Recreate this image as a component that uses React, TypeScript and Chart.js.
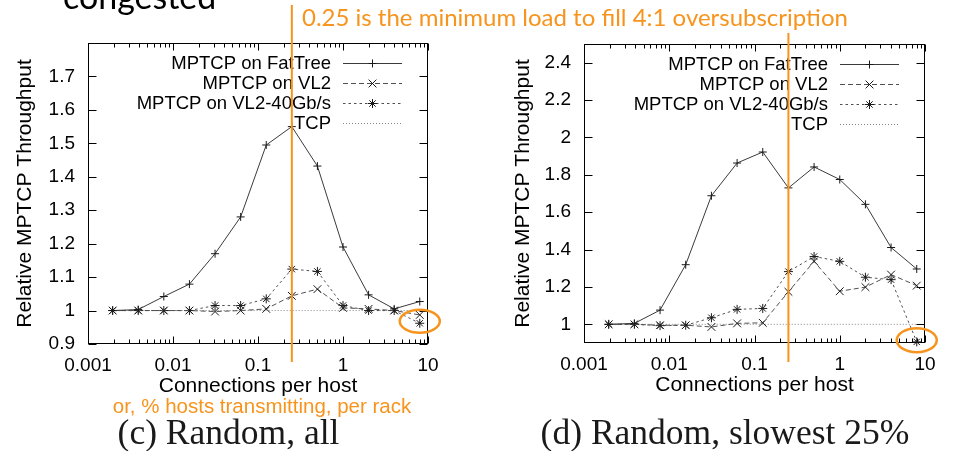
import React, { useEffect, useRef } from 'react';
import { Chart, registerables } from 'chart.js';

Chart.register(...registerables);

// ---------------- data ----------------
const CONNECTIONS = [0.00195, 0.0039, 0.0078, 0.0156, 0.03125, 0.0625, 0.125, 0.25, 0.5, 1, 2, 4, 8];

const ALL_FATTREE = [1.0, 1.003, 1.042, 1.079, 1.17, 1.28, 1.495, 1.55, 1.432, 1.19, 1.047, 1.005, 1.027];
const ALL_VL2 = [1.0, 1.0, 1.0, 1.0, 0.997, 1.0, 1.005, 1.044, 1.064, 1.008, 1.005, 1.0, 0.987];
const ALL_VL2_40 = [1.0, 1.0, 1.0, 1.0, 1.015, 1.015, 1.035, 1.124, 1.117, 1.015, 1.0, 1.0, 0.962];
const ALL_TCP = [1, 1, 1, 1, 1, 1, 1, 1, 1, 1, 1, 1, 1];

const SLOW_FATTREE = [1.0, 1.005, 1.076, 1.319, 1.688, 1.863, 1.922, 1.73, 1.842, 1.775, 1.642, 1.411, 1.296];
const SLOW_VL2 = [1.0, 1.0, 0.995, 0.995, 0.986, 1.005, 1.008, 1.174, 1.337, 1.177, 1.199, 1.266, 1.207];
const SLOW_VL2_40 = [1.0, 1.0, 0.993, 0.995, 1.035, 1.08, 1.085, 1.282, 1.363, 1.337, 1.252, 1.239, 0.906];
const SLOW_TCP = [1, 1, 1, 1, 1, 1, 1, 1, 1, 1, 1, 1, 1];

const SERIES_LABELS = ['MPTCP on FatTree', 'MPTCP on VL2', 'MPTCP on VL2-40Gb/s', 'TCP'];

const X_RANGE = [0.001, 10];
const X_TICKS = [0.001, 0.01, 0.1, 1, 10];
const ALL_Y_RANGE = [0.9, 1.8];
const ALL_Y_TICKS = [0.9, 1, 1.1, 1.2, 1.3, 1.4, 1.5, 1.6, 1.7];
const SLOW_Y_RANGE = [0.9, 2.5];
const SLOW_Y_TICKS = [1, 1.2, 1.4, 1.6, 1.8, 2, 2.2, 2.4];

const THRESHOLD_LOAD = 0.25;
const ALL_HIGHLIGHT = [8, 0.968];
const SLOW_HIGHLIGHT = [8, 0.915];

const X_TITLE = 'Connections per host';
const Y_TITLE = 'Relative MPTCP Throughput';
const HEADLINE = '0.25 is the minimum load to fill 4:1 oversubscription';
const X_NOTE = 'or, % hosts transmitting, per rack';
const CAPTION_ALL = '(c) Random, all';
const CAPTION_SLOW = '(d) Random, slowest 25%';
const TOP_WORD = 'congested';

// ---------------- styles ----------------
const ORANGE = '#F7941D';
const SANS = '"Liberation Sans", Arial, Helvetica, sans-serif';
const SERIF = '"Liberation Serif", "Times New Roman", Times, serif';
const HUMANIST = 'Lato, "Open Sans", sans-serif';

const STYLES = [
  { color: '#3a3a3a', dash: [] as number[], point: 'cross', radius: 4 },
  { color: '#505050', dash: [5, 3], point: 'crossRot', radius: 5.5 },
  { color: '#505050', dash: [2.5, 3], point: 'star', radius: 4.5 },
  { color: '#858585', dash: [1, 2], point: '', radius: 0 },
];

function drawMarker(ctx: CanvasRenderingContext2D, style: string, x: number, y: number, r: number) {
  if (!style) return;
  ctx.beginPath();
  if (style === 'cross' || style === 'star') {
    ctx.moveTo(x - r, y); ctx.lineTo(x + r, y);
    ctx.moveTo(x, y - r); ctx.lineTo(x, y + r);
  }
  if (style === 'crossRot' || style === 'star') {
    const d = r * Math.SQRT1_2;
    ctx.moveTo(x - d, y - d); ctx.lineTo(x + d, y + d);
    ctx.moveTo(x - d, y + d); ctx.lineTo(x + d, y - d);
  }
  ctx.stroke();
}

const framePlugin = {
  id: 'gnuFrame',
  beforeDatasetsDraw(chart: any) {
    const { ctx, chartArea: a, scales } = chart;
    const xs = scales.x, ys = scales.y;
    const L = Math.round(a.left) + 0.5, R = Math.round(a.right) - 0.5;
    const T = Math.round(a.top) + 0.5, B = Math.round(a.bottom) - 0.5;
    ctx.save();
    ctx.strokeStyle = '#000';
    ctx.lineWidth = 1;
    ctx.setLineDash([]);
    ctx.strokeRect(L, T, R - L, B - T);
    ctx.beginPath();
    ys.ticks.forEach((t: any) => {
      const py = Math.round(ys.getPixelForValue(t.value)) + 0.5;
      ctx.moveTo(L, py); ctx.lineTo(L + 8, py);
      ctx.moveTo(R, py); ctx.lineTo(R - 8, py);
    });
    xs.ticks.forEach((t: any) => {
      const px = Math.round(xs.getPixelForValue(t.value)) + 0.5;
      ctx.moveTo(px, B); ctx.lineTo(px, B - 7);
      ctx.moveTo(px, T); ctx.lineTo(px, T + 7);
    });
    X_TICKS.forEach((d) => {
      for (let m = 2; m <= 9; m++) {
        const v = d * m;
        if (v > xs.max) continue;
        const px = Math.round(xs.getPixelForValue(v)) + 0.5;
        ctx.moveTo(px, B); ctx.lineTo(px, B - 4);
        ctx.moveTo(px, T); ctx.lineTo(px, T + 4);
      }
    });
    ctx.stroke();
    ctx.restore();
  },
};

const legendPlugin = {
  id: 'gnuLegend',
  afterDatasetsDraw(chart: any) {
    const { ctx, chartArea: a } = chart;
    const sampleEnd = a.right - 26;
    const sampleStart = sampleEnd - 59;
    const textEnd = sampleStart - 12;
    ctx.save();
    chart.data.datasets.forEach((ds: any, i: number) => {
      const y = Math.round(a.top + 19.5 + i * 20.3) + 0.5;
      ctx.font = `18.5px ${SANS}`;
      ctx.fillStyle = '#000';
      ctx.textAlign = 'right';
      ctx.textBaseline = 'middle';
      ctx.fillText(ds.label, textEnd, y);
      ctx.strokeStyle = ds.borderColor;
      ctx.lineWidth = 1;
      ctx.setLineDash(ds.borderDash || []);
      ctx.beginPath();
      ctx.moveTo(sampleStart, y);
      ctx.lineTo(sampleEnd, y);
      ctx.stroke();
      ctx.setLineDash([]);
      ctx.strokeStyle = '#1a1a1a';
      drawMarker(ctx, STYLES[i].point, (sampleStart + sampleEnd) / 2, y, STYLES[i].radius);
    });
    ctx.restore();
  },
};

function annotationPlugin(lineTop: number, lineBottom: number, highlight: number[], rx: number, ry: number) {
  return {
    id: 'orangeNotes',
    afterDraw(chart: any) {
      const { ctx, scales } = chart;
      const x = scales.x.getPixelForValue(THRESHOLD_LOAD);
      ctx.save();
      ctx.strokeStyle = ORANGE;
      ctx.lineWidth = 2;
      ctx.setLineDash([]);
      ctx.beginPath();
      ctx.moveTo(x, lineTop);
      ctx.lineTo(x, lineBottom);
      ctx.stroke();
      const cx = scales.x.getPixelForValue(highlight[0]);
      const cy = scales.y.getPixelForValue(highlight[1]);
      ctx.lineWidth = 2.5;
      ctx.beginPath();
      ctx.ellipse(cx, cy, rx, ry, 0, 0, Math.PI * 2);
      ctx.stroke();
      ctx.restore();
    },
  };
}

interface PanelSpec {
  series: number[][];
  yRange: number[];
  yTicks: number[];
  padding: { left: number; right: number; top: number; bottom: number };
  yWidth: number;
  yTitlePad: number;
  notes: any;
}

function buildConfig(p: PanelSpec): any {
  const datasets = p.series.map((vals, i) => ({
    label: SERIES_LABELS[i],
    data: CONNECTIONS.map((x, j) => ({ x, y: vals[j] })),
    borderColor: STYLES[i].color,
    borderWidth: 1,
    borderDash: STYLES[i].dash,
    pointStyle: STYLES[i].point || 'circle',
    pointRadius: STYLES[i].radius,
    pointHoverRadius: STYLES[i].radius,
    pointBorderColor: '#1a1a1a',
    pointBorderWidth: 1,
    pointBackgroundColor: 'rgba(0,0,0,0)',
    fill: false,
    tension: 0,
    clip: 8,
  }));
  return {
    type: 'line',
    data: { datasets },
    options: {
      animation: false,
      responsive: false,
      events: [],
      layout: { padding: p.padding },
      plugins: { legend: { display: false }, tooltip: { enabled: false }, title: { display: false } },
      scales: {
        x: {
          type: 'logarithmic',
          min: X_RANGE[0],
          max: X_RANGE[1],
          afterBuildTicks: (s: any) => { s.ticks = X_TICKS.map((v) => ({ value: v })); },
          afterFit: (s: any) => { s.height = 60; },
          ticks: {
            autoSkip: false,
            maxRotation: 0,
            padding: 10,
            color: '#000',
            font: { family: SANS, size: 19 },
            callback: (v: any) => String(v),
          },
          grid: { display: false, drawTicks: false },
          border: { display: false },
          title: {
            display: true,
            text: X_TITLE,
            color: '#000',
            font: { family: SANS, size: 21 },
            padding: { top: 0, bottom: 5 },
          },
        },
        y: {
          type: 'linear',
          min: p.yRange[0],
          max: p.yRange[1],
          afterBuildTicks: (s: any) => { s.ticks = p.yTicks.map((v) => ({ value: v })); },
          afterFit: (s: any) => { s.width = p.yWidth; },
          ticks: {
            autoSkip: false,
            padding: 13,
            color: '#000',
            font: { family: SANS, size: 19 },
            callback: (v: any) => String(v),
          },
          grid: { display: false, drawTicks: false },
          border: { display: false },
          title: {
            display: true,
            text: Y_TITLE,
            color: '#000',
            font: { family: SANS, size: 21 },
            padding: { top: p.yTitlePad, bottom: 0 },
          },
        },
      },
    },
    plugins: [framePlugin, legendPlugin, p.notes],
  };
}

function Text(props: { text: string; x: number; baseline: number; size: number; family: string; color: string; k: number; center?: boolean }) {
  const { text, x, baseline, size, family, color, k, center } = props;
  const style: React.CSSProperties = {
    position: 'absolute',
    top: baseline - k * size,
    left: center ? x - 400 : x,
    width: center ? 800 : undefined,
    textAlign: center ? 'center' : 'left',
    fontFamily: family,
    fontSize: size,
    lineHeight: '0px',
    color,
    whiteSpace: 'nowrap',
  };
  return <div style={style}>{text}</div>;
}

export default function App() {
  const leftRef = useRef<HTMLCanvasElement>(null);
  const rightRef = useRef<HTMLCanvasElement>(null);

  useEffect(() => {
    const left = new Chart(leftRef.current as HTMLCanvasElement, buildConfig({
      series: [ALL_FATTREE, ALL_VL2, ALL_VL2_40, ALL_TCP],
      yRange: ALL_Y_RANGE,
      yTicks: ALL_Y_TICKS,
      padding: { left: 0, right: 48, top: 43, bottom: 47 },
      yWidth: 88,
      yTitlePad: 13,
      notes: annotationPlugin(5, 362, ALL_HIGHLIGHT, 20, 11.5),
    }));
    const right = new Chart(rightRef.current as HTMLCanvasElement, buildConfig({
      series: [SLOW_FATTREE, SLOW_VL2, SLOW_VL2_40, SLOW_TCP],
      yRange: SLOW_Y_RANGE,
      yTicks: SLOW_Y_TICKS,
      padding: { left: 0, right: 28, top: 44, bottom: 48 },
      yWidth: 108,
      yTitlePad: 35,
      notes: annotationPlugin(33, 362, SLOW_HIGHLIGHT, 20, 12),
    }));
    return () => { left.destroy(); right.destroy(); };
  }, []);

  return (
    <div style={{ position: 'fixed', left: 0, top: 0, width: 953, height: 451, background: '#fff', overflow: 'hidden' }}>
      <canvas ref={leftRef} width={476} height={451} style={{ position: 'absolute', left: 0, top: 0, width: 476, height: 451 }} />
      <canvas ref={rightRef} width={477} height={451} style={{ position: 'absolute', left: 476, top: 0, width: 477, height: 451 }} />
      <Text text={TOP_WORD} x={63} baseline={9} size={34} family={HUMANIST} color="#000" k={0.387} />
      <Text text={HEADLINE} x={302} baseline={26.5} size={24} family={HUMANIST} color={ORANGE} k={0.387} />
      <Text text={X_NOTE} x={262} baseline={413} size={20.5} family={SANS} color={ORANGE} k={0.3465} center />
      <Text text={CAPTION_ALL} x={228.5} baseline={444} size={35.5} family={SERIF} color="#1a1a1a" k={0.3375} center />
      <Text text={CAPTION_SLOW} x={725} baseline={444} size={35.5} family={SERIF} color="#1a1a1a" k={0.3375} center />
    </div>
  );
}
